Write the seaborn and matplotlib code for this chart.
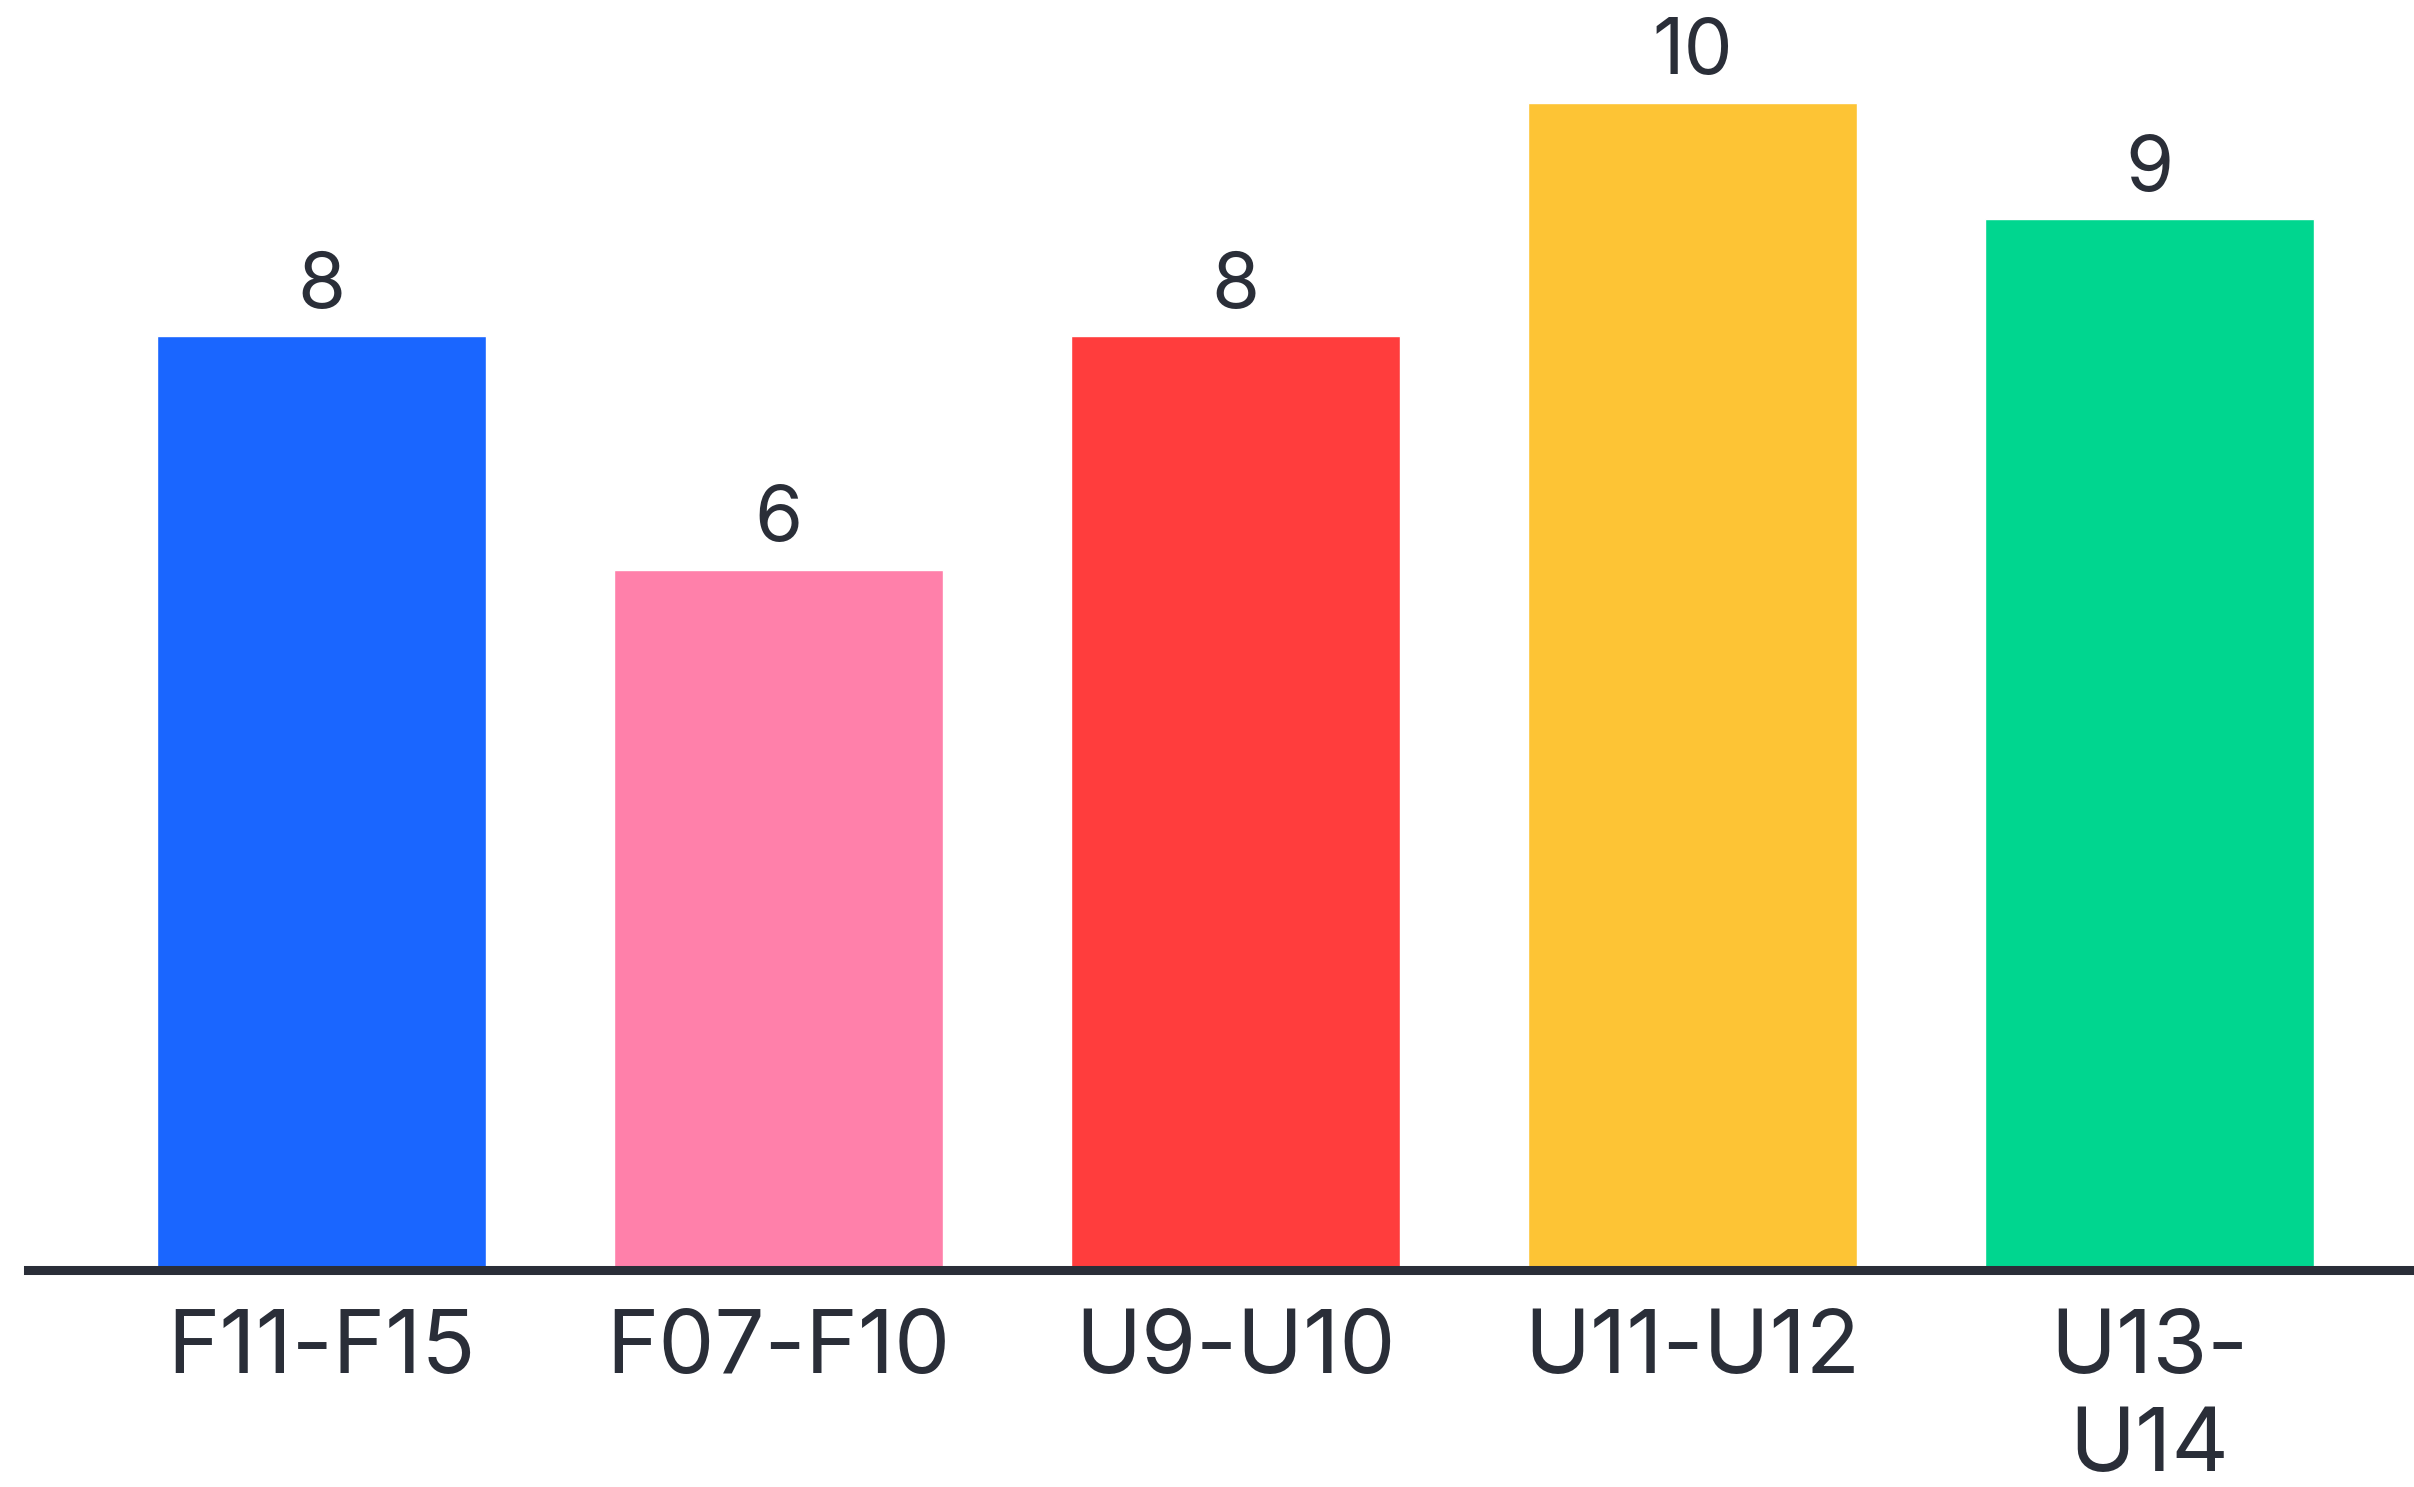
import matplotlib
matplotlib.use("Agg")
import matplotlib.pyplot as plt
import seaborn as sns
import pandas as pd

# Chart data
groups = ["F11-F15", "F07-F10", "U9-U10", "U11-U12", "U13-U14"]
counts = [8, 6, 8, 10, 9]
tick_labels = ["F11-F15", "F07-F10", "U9-U10", "U11-U12", "U13-\nU14"]
bar_colors = ["#1a66ff", "#ff80aa", "#ff3d3d", "#fdc435", "#00d68f"]

text_color = "#2a2e38"

sns.set_theme(style="white")
plt.rcParams["font.family"] = ["Inter", "DejaVu Sans"]

df = pd.DataFrame({"group": groups, "count": counts})

fig = plt.figure(figsize=(24.14, 14.87), dpi=100)
ax = fig.add_axes([0.0116, 0.146, 0.9884, 0.854])

sns.barplot(data=df, x="group", y="count", hue="group", palette=bar_colors,
            width=0.72, saturation=1, legend=False, ax=ax)

ax.set_xlim(-0.642, 4.579)
ax.set_ylim(0, 10.88)

for container in ax.containers:
    ax.bar_label(container, fmt="%d", padding=9, fontsize=56, color=text_color)

ax.set_xticks(range(len(groups)))
ax.set_xticklabels(tick_labels, fontsize=64, color=text_color, linespacing=1.25)
ax.tick_params(axis="x", length=0, pad=28)
ax.set_yticks([])
ax.set_xlabel("")
ax.set_ylabel("")

for side in ["top", "left", "right"]:
    ax.spines[side].set_visible(False)
ax.spines["bottom"].set_color(text_color)
ax.spines["bottom"].set_linewidth(6.5)

fig.savefig("out.png", dpi=100)
